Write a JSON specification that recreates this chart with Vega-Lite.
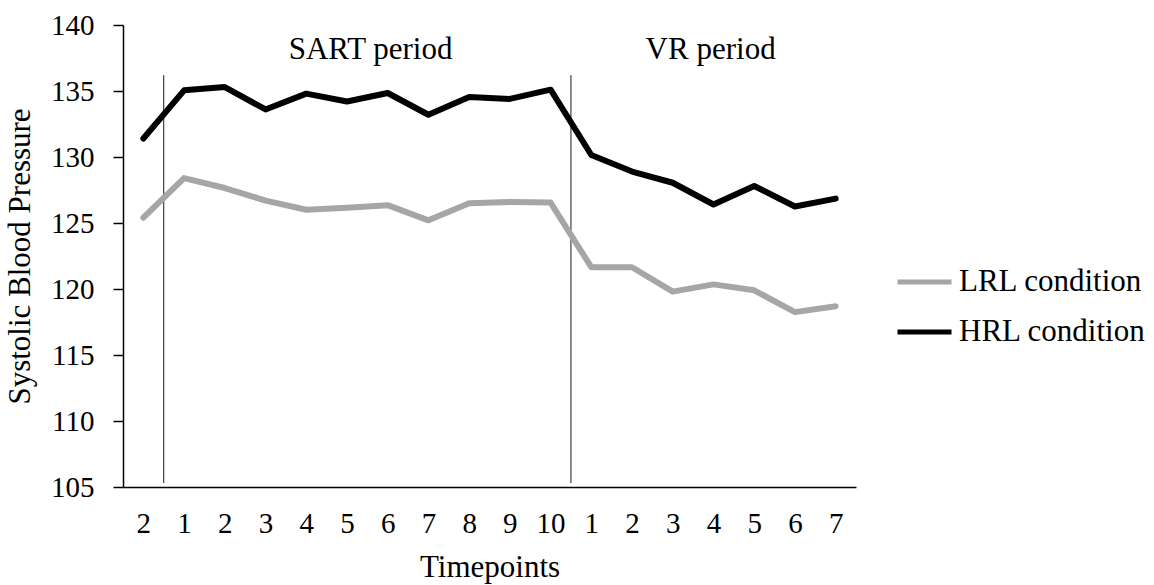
{
  "$schema": "https://vega.github.io/schema/vega-lite/v6.json",
  "width": 733,
  "height": 462,
  "autosize": {"type": "none"},
  "padding": {"left": 123, "top": 25, "right": 298, "bottom": 98},
  "background": "white",
  "config": {
    "font": "Liberation Serif",
    "view": {"stroke": null},
    "axis": {"labelFont": "Liberation Serif", "titleFont": "Liberation Serif", "labelColor": "black", "titleColor": "black", "titleFontWeight": "normal"}
  },
  "datasets": {
    "bp": [
      {"t": 0, "series": "LRL condition", "value": 125.4},
      {"t": 1, "series": "LRL condition", "value": 128.4},
      {"t": 2, "series": "LRL condition", "value": 127.65},
      {"t": 3, "series": "LRL condition", "value": 126.7},
      {"t": 4, "series": "LRL condition", "value": 126.0},
      {"t": 5, "series": "LRL condition", "value": 126.15},
      {"t": 6, "series": "LRL condition", "value": 126.35},
      {"t": 7, "series": "LRL condition", "value": 125.2},
      {"t": 8, "series": "LRL condition", "value": 126.5},
      {"t": 9, "series": "LRL condition", "value": 126.6},
      {"t": 10, "series": "LRL condition", "value": 126.55},
      {"t": 11, "series": "LRL condition", "value": 121.65},
      {"t": 12, "series": "LRL condition", "value": 121.65},
      {"t": 13, "series": "LRL condition", "value": 119.8},
      {"t": 14, "series": "LRL condition", "value": 120.35},
      {"t": 15, "series": "LRL condition", "value": 119.9},
      {"t": 16, "series": "LRL condition", "value": 118.25},
      {"t": 17, "series": "LRL condition", "value": 118.7},
      {"t": 0, "series": "HRL condition", "value": 131.4},
      {"t": 1, "series": "HRL condition", "value": 135.05},
      {"t": 2, "series": "HRL condition", "value": 135.3},
      {"t": 3, "series": "HRL condition", "value": 133.6},
      {"t": 4, "series": "HRL condition", "value": 134.8},
      {"t": 5, "series": "HRL condition", "value": 134.2},
      {"t": 6, "series": "HRL condition", "value": 134.85},
      {"t": 7, "series": "HRL condition", "value": 133.2},
      {"t": 8, "series": "HRL condition", "value": 134.55},
      {"t": 9, "series": "HRL condition", "value": 134.4},
      {"t": 10, "series": "HRL condition", "value": 135.1},
      {"t": 11, "series": "HRL condition", "value": 130.15},
      {"t": 12, "series": "HRL condition", "value": 128.9},
      {"t": 13, "series": "HRL condition", "value": 128.05},
      {"t": 14, "series": "HRL condition", "value": 126.4},
      {"t": 15, "series": "HRL condition", "value": 127.8},
      {"t": 16, "series": "HRL condition", "value": 126.25},
      {"t": 17, "series": "HRL condition", "value": 126.85}
    ],
    "dividers": [
      {"t": 0.5, "value": 136.2, "value2": 105.3},
      {"t": 10.5, "value": 136.2, "value2": 105.3}
    ],
    "periods": [
      {"t": 5.58, "value": 137.45, "label": "SART period"},
      {"t": 13.93, "value": 137.45, "label": "VR period"}
    ]
  },
  "layer": [
    {
      "data": {"name": "dividers"},
      "mark": {"type": "rule", "color": "#1a1a1a", "strokeWidth": 1},
      "encoding": {
        "x": {"field": "t", "type": "quantitative"},
        "y": {"field": "value", "type": "quantitative"},
        "y2": {"field": "value2"}
      }
    },
    {
      "data": {"name": "bp"},
      "mark": {"type": "line", "strokeWidth": 6, "strokeCap": "round", "strokeJoin": "round"},
      "encoding": {
        "x": {
          "field": "t",
          "type": "quantitative",
          "scale": {"domain": [-0.5, 17.5], "nice": false, "zero": false},
          "axis": {
            "values": [0, 1, 2, 3, 4, 5, 6, 7, 8, 9, 10, 11, 12, 13, 14, 15, 16, 17],
            "labelExpr": "['2','1','2','3','4','5','6','7','8','9','10','1','2','3','4','5','6','7'][datum.value]",
            "ticks": false,
            "grid": false,
            "domainColor": "black",
            "domainWidth": 1.5,
            "labelFontSize": 29,
            "labelPadding": 22,
            "labelFlush": false,
            "labelOverlap": false,
            "title": "Timepoints",
            "titleFontSize": 31,
            "titlePadding": 14
          }
        },
        "y": {
          "field": "value",
          "type": "quantitative",
          "scale": {"domain": [105, 140], "nice": false, "zero": false},
          "axis": {
            "values": [105, 110, 115, 120, 125, 130, 135, 140],
            "grid": false,
            "tickSize": 10,
            "tickColor": "black",
            "tickWidth": 1.5,
            "domainColor": "black",
            "domainWidth": 1.5,
            "labelFontSize": 29,
            "labelPadding": 19,
            "labelFlush": false,
            "title": "Systolic Blood Pressure",
            "titleFontSize": 31,
            "titlePadding": 14
          }
        },
        "color": {
          "field": "series",
          "type": "nominal",
          "scale": {"domain": ["LRL condition", "HRL condition"], "range": ["#A6A6A6", "#000000"]},
          "legend": {
            "title": null,
            "orient": "none",
            "legendX": 772,
            "legendY": 232,
            "symbolType": "stroke",
            "symbolSize": 2916,
            "symbolStrokeWidth": 5,
            "labelFont": "Liberation Serif",
            "labelFontSize": 31,
            "labelColor": "black",
            "labelOffset": 5,
            "labelLimit": 400,
            "clipHeight": 50,
            "rowPadding": 0
          }
        }
      }
    },
    {
      "data": {"name": "periods"},
      "mark": {"type": "text", "fontSize": 31, "font": "Liberation Serif", "color": "black", "baseline": "alphabetic", "align": "center"},
      "encoding": {
        "x": {"field": "t", "type": "quantitative"},
        "y": {"field": "value", "type": "quantitative"},
        "text": {"field": "label"}
      }
    }
  ]
}
